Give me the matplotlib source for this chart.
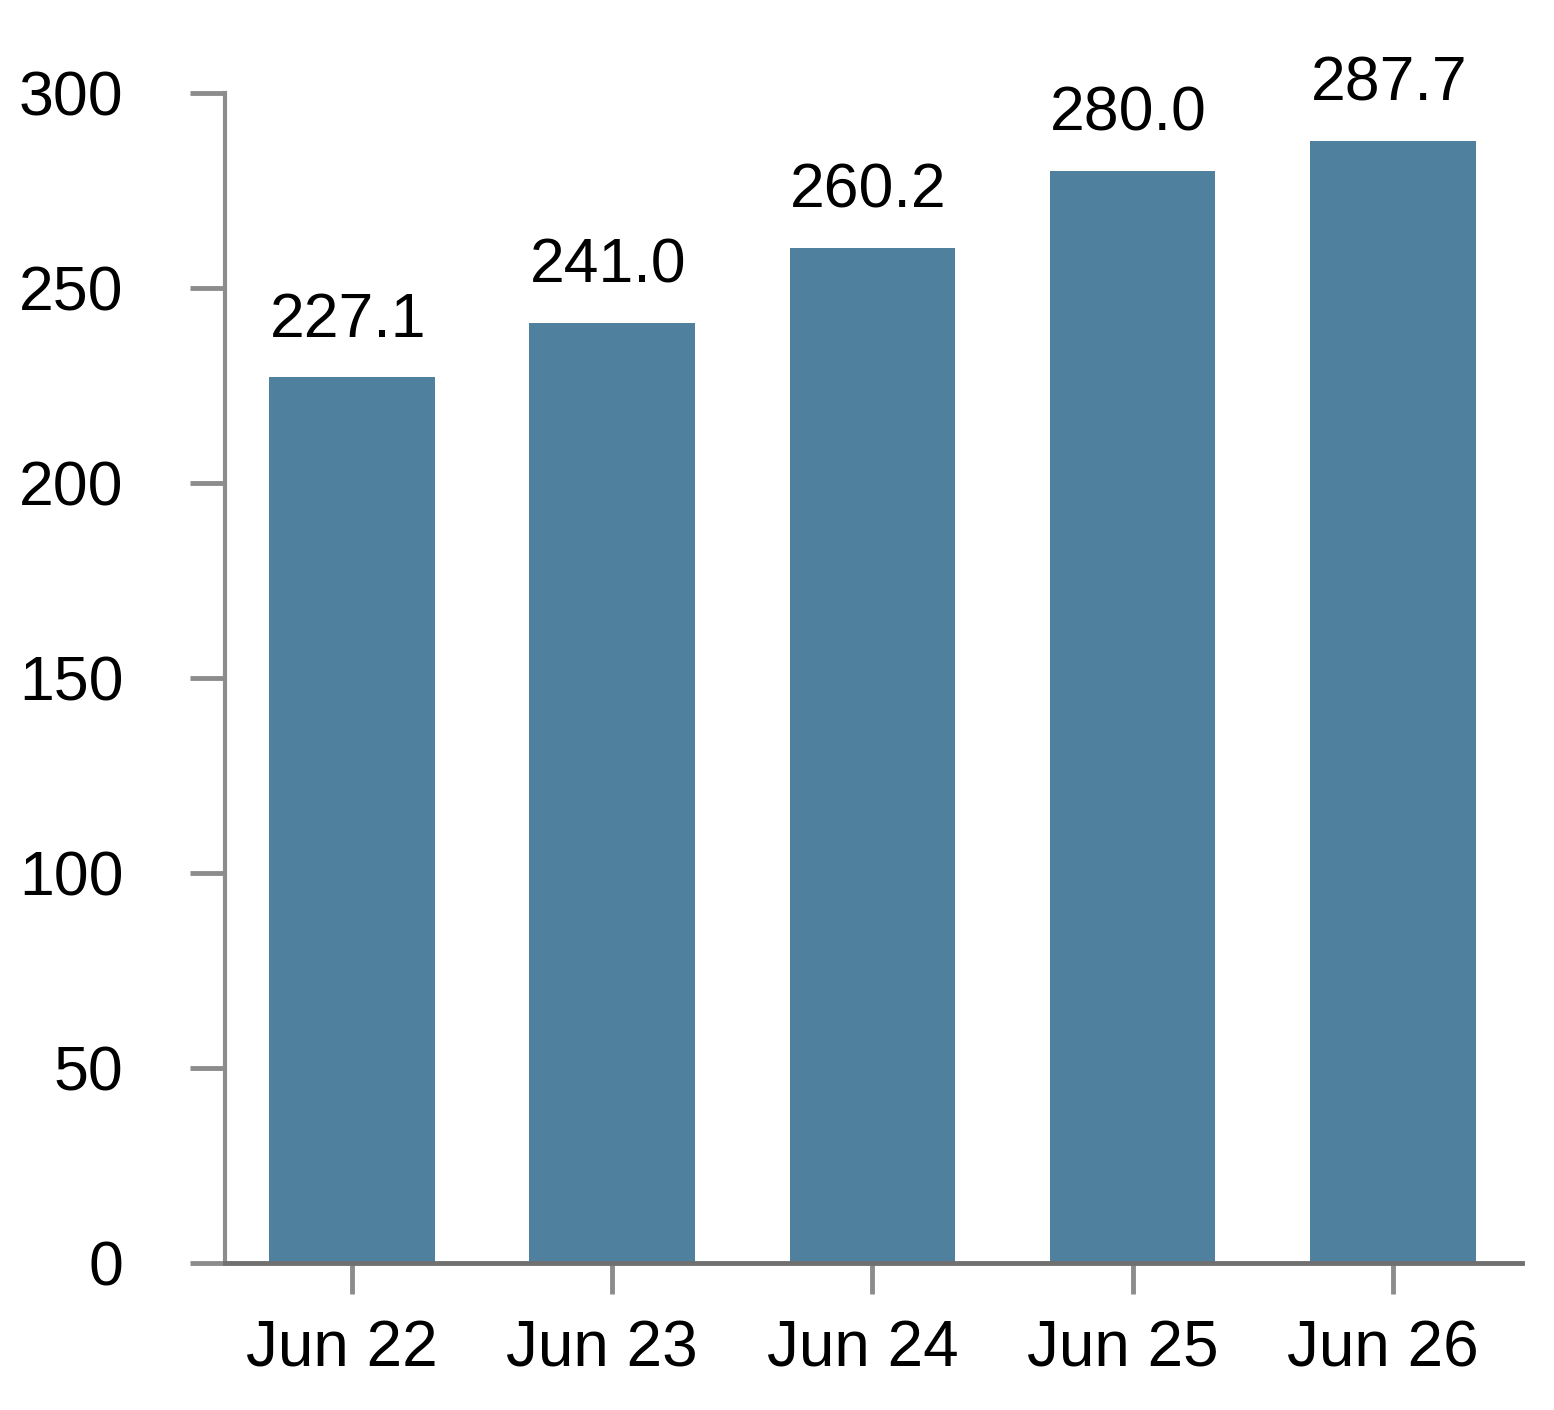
import matplotlib
matplotlib.use("Agg")
import matplotlib.pyplot as plt
import matplotlib.transforms as mtransforms
import numpy as np

# data
categories = ["Jun 22", "Jun 23", "Jun 24", "Jun 25", "Jun 26"]
values = [227.1, 241.0, 260.2, 280.0, 287.7]
y_ticks = [0, 50, 100, 150, 200, 250, 300]

plt.rcParams['font.family'] = ['Liberation Sans', 'DejaVu Sans']

bar_color = '#4f809d'
tick_grey = '#8c8c8c'
axis_grey = '#707070'

fig = plt.figure(figsize=(15.54, 14.1), dpi=100)
ax = fig.add_axes([0.1448, 0.1043, 0.8346, 0.8298])

x = np.arange(len(categories))
ax.bar(x, values, width=0.636, color=bar_color, zorder=2)

for xi, v in zip(x, values):
    ax.annotate(f"{v:.1f}", xy=(xi, v), xytext=(-3, 29), textcoords='offset points',
                ha='center', va='baseline', fontsize=45, color='black')

ax.set_xlim(-0.488, 4.496)
ax.set_ylim(0, 300)
ax.set_xticks(x)
ax.set_xticklabels(categories)
ax.set_yticks(y_ticks)

for side in ['top', 'right']:
    ax.spines[side].set_visible(False)
ax.spines['left'].set_color(tick_grey)
ax.spines['left'].set_linewidth(3)
ax.spines['bottom'].set_color(axis_grey)
ax.spines['bottom'].set_linewidth(3.5)

ax.tick_params(axis='y', length=25, width=3.5, color=tick_grey, labelsize=45, pad=48)
ax.tick_params(axis='x', length=22, width=3.5, color=tick_grey, labelsize=46, pad=19)

# x labels sit a little left of their ticks in the reference
shift = mtransforms.ScaledTranslation(-10 / 100, 0, fig.dpi_scale_trans)
for lbl in ax.get_xticklabels():
    lbl.set_transform(lbl.get_transform() + shift)

fig.savefig("out.png", dpi=100)
